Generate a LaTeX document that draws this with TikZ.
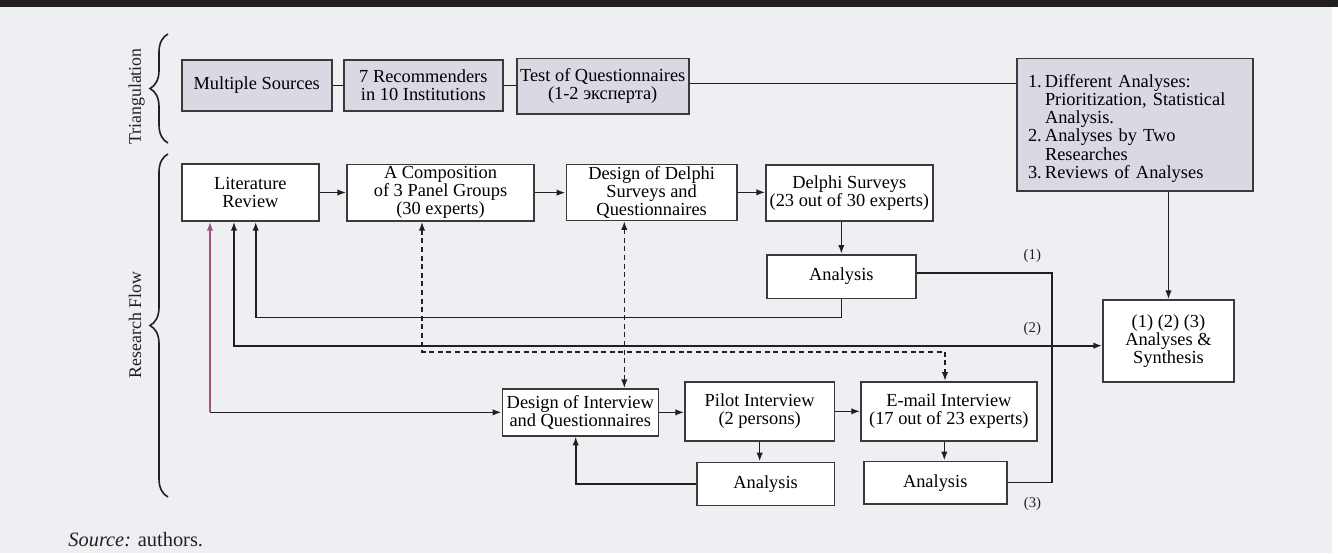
\documentclass[tikz,border=0pt]{standalone}
\usepackage{fontspec}
\setmainfont{Liberation Serif}
\usetikzlibrary{arrows.meta,decorations.pathreplacing,calc}
\definecolor{bg}{HTML}{EEEFF3}
\definecolor{boxgray}{HTML}{D9D9E3}
\definecolor{ink}{HTML}{231F20}
\definecolor{edge}{HTML}{3A3A3A}
\definecolor{plum}{HTML}{A3527F}
\newcommand\boxfont{\fontsize{9.2}{9.1}\selectfont}
\newcommand\smallfnt{\fontsize{7.4}{8}\selectfont}
\newcommand\sidefnt{\fontsize{8.9}{9}\selectfont}
\newcommand\srcfnt{\fontsize{10.2}{11}\selectfont}
\begin{document}
\begin{tikzpicture}[x=0.5pt,y=-0.5pt,
  box/.style={draw=edge, line width=0.8pt, fill=white, inner sep=0pt, align=center, font=\boxfont},
  gbox/.style={box, fill=boxgray},
  conn/.style={draw=ink, line width=0.8pt},
  arr/.style={conn, -{Latex[length=4.4pt,width=3.2pt]}},
  darr/.style={conn, dash pattern=on 2.5pt off 1.8pt, {Latex[length=4.4pt,width=3.2pt]}-{Latex[length=4.4pt,width=3.2pt]}},
  lbl/.style={font=\smallfnt, inner sep=0pt, text=ink},
  side/.style={font=\sidefnt, inner sep=0pt, rotate=90, text=ink},
  brc/.style={conn, decorate, decoration={brace, amplitude=9pt}}]
\useasboundingbox (0,0) rectangle (1338,553);
\fill[white] (0,0) rectangle (1338,553);
\fill[ink] (0,0) rectangle (1338,7);
\fill[bg] (0,7) rectangle (1332,553);

% triangulation row
\node[gbox, minimum width=75pt, minimum height=25.5pt] (ms) at (256.7,85.5) {Multiple Sources};
\node[gbox, minimum width=79.35pt, minimum height=25.5pt] (rec) at (423.35,85.5) {7 Recommenders\\in 10 Institutions};
\node[gbox, minimum width=86pt, minimum height=27.85pt] (test) at (602.7,86.15) {Test of Questionnaires\\(1-2 эксперта)};
\node[gbox, minimum width=117.85pt, minimum height=66.2pt, text width=106.85pt, inner xsep=5.5pt, align=left] (list) at (1134.85,124.5)
  {\begin{tabular}{@{}l@{\hspace{1.6pt}}l@{}}
   \rule{0pt}{11pt}1. & Different Analyses:\\
      & Prioritization, Statistical\\
      & Analysis.\\
   2. & Analyses by Two\\
      & Researches\\
   3. & Reviews of Analyses
   \end{tabular}};

% research flow
\node[box, minimum width=68.65pt, minimum height=28.5pt] (lit) at (250.35,192.5) {Literature\\Review};
\node[box, minimum width=93.5pt, minimum height=28.35pt] (comp) at (440.5,192.65) {A Composition\\of 3 Panel Groups\\(30 experts)};
\node[box, minimum width=85.35pt, minimum height=28pt] (dd) at (651.65,192.3) {Design of Delphi\\Surveys and\\Questionnaires};
\node[box, minimum width=83.35pt, minimum height=28pt] (ds) at (849.35,193) {Delphi Surveys\\(23 out of 30 experts)};
\node[box, minimum width=74.65pt, minimum height=21.8pt] (an1) at (841.35,276.5) {Analysis};
\node[box, minimum width=78pt, minimum height=23.35pt] (di) at (580.3,412.35) {Design of Interview\\and Questionnaires};
\node[box, minimum width=74.65pt, minimum height=29.65pt] (pi) at (759.65,411.35) {Pilot Interview\\(2 persons)};
\node[box, minimum width=87.85pt, minimum height=29.65pt] (em) at (948.85,411.35) {E-mail Interview\\(17 out of 23 experts)};
\node[box, minimum width=68.65pt, minimum height=21.5pt] (an2) at (765.65,483.8) {Analysis};
\node[box, minimum width=71.5pt, minimum height=21.35pt] (an3) at (935.2,482.65) {Analysis};
\node[box, minimum width=65.5pt, minimum height=41pt] (syn) at (1168.5,341) {(1) (2) (3)\\Analyses \&\\Synthesis};

% labels
\node[side] (tri) at (136.7,96.5) {Triangulation};
\node[side] (rf) at (135,325) {Research Flow};
\node[lbl] (l1) at (1032.3,256) {(1)};
\node[lbl] (l2) at (1032.3,328.5) {(2)};
\node[lbl] (l3) at (1032.5,504) {(3)};
\node[anchor=base west, font=\srcfnt, inner sep=0pt, text=ink] (src) at (68,546) {\textit{Source:} authors.};

% braces
\draw[brc] (168,143) -- (168,34);
\draw[brc] (168,497) -- (168,154);

% triangulation connectors
\draw[conn] (ms.east) -- (rec.west);
\draw[conn] (rec.east) -- (rec.east -| test.west);
\draw[conn] ([yshift=1.4pt]test.east) -- ([yshift=1.4pt]test.east -| list.west);
\draw[arr] (list.south -| syn.north) -- (syn.north);

% research flow connectors
\draw[arr] (lit.east) -- (lit.east -| comp.west);
\draw[arr] (comp.east) -- (comp.east -| dd.west);
\draw[arr] (dd.east) -- (dd.east -| ds.west);
\draw[arr] (ds.south -| an1.north) -- (an1.north);
\draw[arr] (an1.south) -- (an1.south |- 0,317.3) -| (255.7,0 |- lit.south);
\draw[conn, {Latex[length=4.4pt,width=3.2pt]}-{Latex[length=4.4pt,width=3.2pt]}] (234,0 |- lit.south) |- (syn.west |- 0,345.7);
\draw[darr] (422,0 |- comp.south) |- (945,351.7) -- (945,0 |- em.north);
\draw[darr] (624.3,0 |- dd.south) -- (624.3,0 |- di.north);
\coordinate (pk) at (210,0 |- di.west);
\draw[conn, draw=plum, -{Latex[length=4.4pt,width=3.2pt]}] (pk) -- (pk |- lit.south);
\draw[arr] (pk) -- (di.west);
\draw[arr] (di.east) -- (di.east -| pi.west);
\draw[arr] (pi.east) -- (pi.east -| em.west);
\draw[arr] (pi.south) -- (pi.south |- an2.north);
\draw[arr] (944.3,0 |- em.south) -- (944.3,0 |- an3.north);
\draw[arr] (an2.west) -| (575.7,0 |- di.south);
\coordinate (jx) at (1051.7,272.7);
\draw[conn] (an1.east |- jx) -- (jx) -- (jx |- an3.east) -- (an3.east);
\end{tikzpicture}
\end{document}
